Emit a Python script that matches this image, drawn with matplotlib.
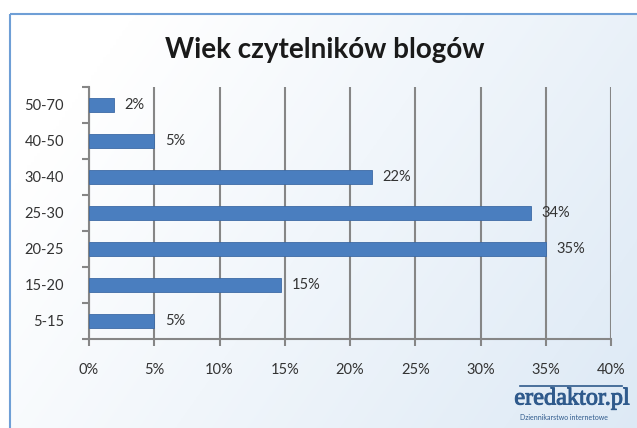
import numpy as np
import matplotlib
matplotlib.use("Agg")
import matplotlib.pyplot as plt
import matplotlib.patheffects as pe
from matplotlib.patches import Rectangle
from matplotlib.lines import Line2D


categories = ["5-15", "15-20", "20-25", "25-30", "30-40", "40-50", "50-70"]
shares = [5.0, 14.7, 35.0, 33.9, 21.7, 5.0, 1.9]
share_labels = ["5%", "15%", "35%", "34%", "22%", "5%", "2%"]
x_ticks = [0, 5, 10, 15, 20, 25, 30, 35, 40]

W, H = 637, 428
fig = plt.figure(figsize=(W / 100, H / 100), dpi=100)

# background: white page with light blue gradient panel inside a blue frame
bg = fig.add_axes([0, 0, 1, 1])
bg.set_xlim(0, W)
bg.set_ylim(H, 0)
bg.axis("off")
gx = np.linspace(0, 1, 200)
gy = np.linspace(0, 1, 140)
GX, GY = np.meshgrid(gx, gy)
t = np.clip(0.75 * GX + 0.35 * GY - 0.15, 0, 1)
top = np.array([1.0, 1.0, 1.0])
blue = np.array([0.86, 0.91, 0.96])
img = top[None, None, :] * (1 - t[..., None]) + blue[None, None, :] * t[..., None]
bg.imshow(img, extent=[10, W + 5, H + 5, 14], aspect="auto", zorder=0)
bg.add_patch(Rectangle((9.5, 13.5), W, H, fill=False, edgecolor="#6f9fd6",
                       linewidth=1.5, zorder=1))

bg.text(325, 50, "Wiek czytelników blogów", ha="center", va="center",
        fontsize=20, fontweight="bold", color="#1a1a1a", family="Lato")

# logo
bg.text(572, 399, "eredaktor.pl", ha="center", va="center", fontsize=17.5,
        family="Liberation Serif", color="#2f5a8c",
        path_effects=[pe.withStroke(linewidth=0.7, foreground="#2f5a8c")])
bg.add_line(Line2D([520, 622], [386, 386], color="#2f5a8c", linewidth=1.2))
bg.text(520, 417, "Dziennikarstwo internetowe", ha="left", va="center",
        fontsize=5, family="Lato", color="#2f5a8c")

# chart
ax = fig.add_axes([89 / W, 1 - 339 / H, (611 - 89) / W, (339 - 87) / H])
ax.patch.set_alpha(0)
y = np.arange(len(categories))
ax.barh(y, shares, height=0.4, color="#4a7ebf", edgecolor="#3d6aa5",
        linewidth=0.6, zorder=3)
for yi, v, lab in zip(y, shares, share_labels):
    ax.text(v + 0.8, yi, lab, va="center", ha="left", fontsize=10.5,
            family="Lato", color="#333333", zorder=4)

ax.set_xlim(0, 40)
ax.set_ylim(-0.5, len(categories) - 0.5)
ax.set_xticks(x_ticks)
ax.set_xticklabels([f"{v}%" for v in x_ticks], family="Lato", fontsize=10.5,
                   color="#333333")
ax.set_yticks(y)
ax.set_yticklabels(categories, family="Lato", fontsize=10.5, color="#333333")
ax.set_yticks(np.arange(-0.5, len(categories), 1), minor=True)
ax.tick_params(axis="y", which="major", length=0, pad=18)
ax.tick_params(axis="y", which="minor", length=5, width=1.5, color="#868686",
               direction="out")
ax.tick_params(axis="x", length=5, width=1.5, color="#868686", pad=12)
ax.grid(axis="x", color="#868686", linewidth=1.5, zorder=1)
for side in ["top", "right"]:
    ax.spines[side].set_visible(False)
for side in ["left", "bottom"]:
    ax.spines[side].set_color("#868686")
    ax.spines[side].set_linewidth(1.5)

fig.savefig("out.png", dpi=100)
